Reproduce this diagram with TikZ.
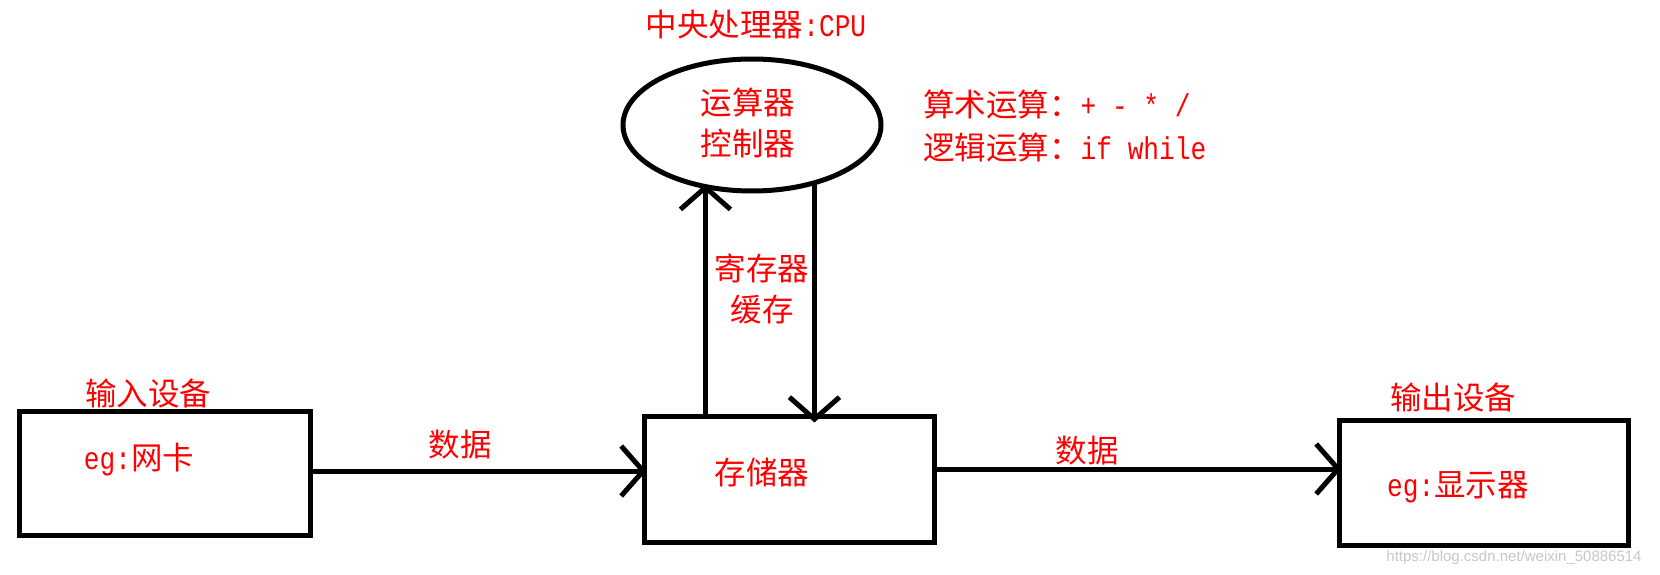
\documentclass[tikz,border=0pt]{standalone}
\usepackage{fontspec}
\usetikzlibrary{arrows.meta,shapes.geometric}
\newfontfamily\cjk{Noto Sans CJK SC}
\newfontfamily\lat{Liberation Mono}[FakeStretch=0.83]
\newfontfamily\wm{Liberation Sans}
\begin{document}
\begin{tikzpicture}[x=1pt,y=-1pt,
  box/.style={draw,line width=5pt,rectangle,inner sep=0pt},
  lbl/.style={text=red,font=\fontsize{31.5}{36}\selectfont\cjk,inner sep=0pt},
  arr/.style={line width=5pt,shorten >=-5pt,-{Straight Barb[length=22pt,width=50pt]}}]
\useasboundingbox (0,0) rectangle (1660,575);
% boxes
\node[box,minimum width=291pt,minimum height=124pt] (inbox) at (164.5,473) {};
\node[box,minimum width=290pt,minimum height=126pt] (mem) at (789,479) {};
\node[box,minimum width=289pt,minimum height=125pt] (outbox) at (1483.5,482.5) {};
\node[draw,ellipse,line width=5pt,minimum width=258pt,minimum height=132pt,inner sep=0pt] (cpu) at (752,125) {};
% connectors
\draw[arr] ([yshift=2pt]inbox.east) -- ([yshift=2pt]inbox.east -| mem.west);
\draw[arr] ([yshift=10pt]mem.east) -- ([yshift=10pt]mem.east -| outbox.west);
\draw[arr] (mem.north -| cpu.234.6) -- (cpu.234.6);
\draw[arr,shorten >=-9pt] (cpu.316) -- (cpu.316 |- mem.north);
% labels
\node[lbl] (lin) at (148,394) {输入设备};
\node[lbl] (lnet) at (139,460) {{\lat eg:}网卡};
\node[lbl] (ld1) at (460,445) {数据};
\node[lbl] (lmem) at (762,472) {存储器};
\node[lbl] (ld2) at (1087,451) {数据};
\node[lbl] (lout) at (1453,398) {输出设备};
\node[lbl] (ldisp) at (1458,487) {{\lat eg:}显示器};
\node[lbl] (lcpu) at (756,25) {中央处理器{\lat :CPU}};
\node[lbl] (lalu) at (748,103) {运算器};
\node[lbl] (lctl) at (748,144) {控制器};
\node[lbl,anchor=west] (larith) at (923,105) {算术运算：{\lat + - * /}};
\node[lbl,anchor=west] (llogic) at (923,148) {逻辑运算：{\lat if while}};
\node[lbl] (lreg) at (762,268) {寄存器};
\node[lbl] (lcache) at (762,310) {缓存};
\node[text=black!22,font=\fontsize{15}{18}\selectfont\wm,inner sep=0pt] (wmark) at (1514,558) {https://blog.csdn.net/weixin\_50886514};
\end{tikzpicture}
\end{document}
